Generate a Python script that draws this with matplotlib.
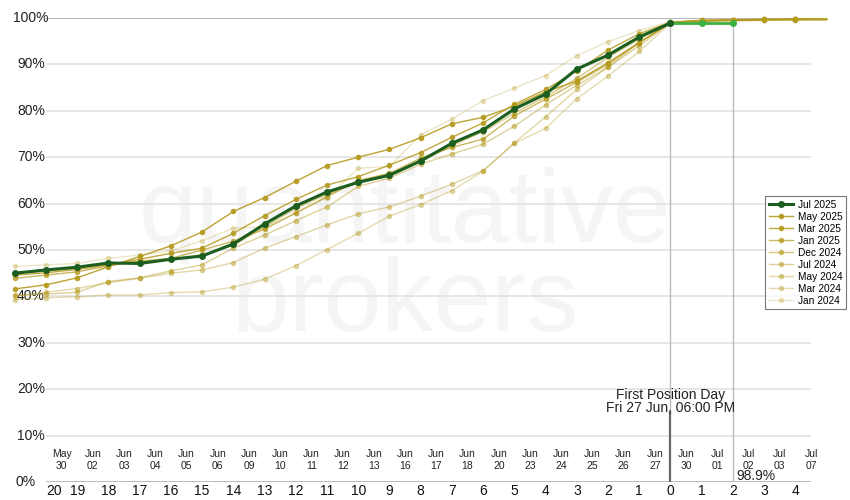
import matplotlib
matplotlib.use("Agg")
import matplotlib.pyplot as plt

plt.rcParams['font.family'] = ['Liberation Sans', 'DejaVu Sans']

# days relative to first position day
days = list(range(-21, 1))
tail_days = [1, 2, 3, 4, 5]

jul25 = [45.0, 45.7, 46.3, 47.2, 47.1, 48.0, 48.7, 51.3, 55.6, 59.5, 62.5,
         64.6, 66.1, 69.2, 73.0, 75.9, 80.4, 83.6, 89.0, 92.0, 95.9, 98.9]
jul25_after = [98.9, 98.9, 98.9]  # days 0, 1, 2

may25 = [41.6, 42.5, 44.0, 46.4, 48.6, 50.9, 53.9, 58.3, 61.3, 64.8, 68.2,
         70.0, 71.7, 74.2, 77.2, 78.6, 81.0, 84.1, 86.4, 90.4, 94.7, 99.0]
mar25 = [44.6, 45.1, 45.8, 46.8, 48.0, 49.3, 50.4, 53.6, 57.4, 60.9, 64.0,
         65.8, 68.3, 71.0, 74.3, 77.4, 81.4, 84.6, 88.6, 93.1, 96.6, 99.1]
jan25 = [43.9, 44.6, 45.3, 46.6, 47.6, 48.2, 50.0, 51.9, 54.5, 58.0, 61.5,
         65.0, 66.5, 69.8, 72.1, 73.9, 78.9, 82.5, 86.2, 90.0, 94.7, 99.0]
dec24 = [45.0, 45.5, 46.0, 47.0, 47.5, 48.0, 49.0, 51.0, 55.0, 59.0, 62.0,
         64.5, 66.5, 69.0, 72.5, 75.5, 79.5, 83.0, 87.0, 91.5, 95.5, 99.2]
jul24 = [40.2, 40.5, 40.9, 43.2, 44.0, 45.5, 46.8, 50.4, 53.2, 56.3, 59.3,
         63.7, 65.5, 68.5, 70.7, 72.8, 76.7, 81.3, 85.5, 89.4, 94.0, 99.0]
may24 = [40.0, 40.9, 41.7, 43.0, 43.9, 45.0, 45.7, 47.3, 50.4, 52.9, 55.4,
         57.8, 59.3, 61.6, 64.2, 67.1, 73.1, 78.7, 84.6, 89.4, 94.7, 98.9]
mar24 = [39.3, 39.7, 39.9, 40.3, 40.3, 40.8, 41.0, 42.0, 43.7, 46.6, 50.1,
         53.6, 57.3, 59.8, 62.8, 67.0, 73.0, 76.2, 82.6, 87.5, 92.8, 98.9]
jan24 = [46.5, 46.8, 47.1, 48.2, 48.9, 49.8, 52.0, 54.7, 55.0, 57.9, 61.3,
         67.6, 68.0, 74.8, 78.2, 82.2, 84.9, 87.6, 91.9, 94.9, 97.3, 99.2]

tails = {
    'May 2025': [99.5, 99.6, 99.7, 99.7, 99.7],
    'Mar 2025': [99.4, 99.6, 99.7, 99.8, 99.8],
    'Jan 2025': [99.5, 99.5, 99.6, 99.7, 99.7],
    'Dec 2024': [99.3, 99.5, 99.6, 99.6, 99.7],
    'Jul 2024': [99.4, 99.6, 99.7, 99.7, 99.8],
    'May 2024': [99.3, 99.4, 99.5, 99.6, 99.6],
    'Mar 2024': [99.2, 99.4, 99.5, 99.6, 99.6],
    'Jan 2024': [99.5, 99.6, 99.7, 99.7, 99.7],
}
series = [('May 2025', may25), ('Mar 2025', mar25), ('Jan 2025', jan25),
          ('Dec 2024', dec24), ('Jul 2024', jul24), ('May 2024', may24),
          ('Mar 2024', mar24), ('Jan 2024', jan24)]
alphas = [0.9, 0.85, 0.7, 0.55, 0.45, 0.4, 0.35, 0.25]

date_labels = ['May\n30', 'Jun\n02', 'Jun\n03', 'Jun\n04', 'Jun\n05', 'Jun\n06',
               'Jun\n09', 'Jun\n10', 'Jun\n11', 'Jun\n12', 'Jun\n13', 'Jun\n16',
               'Jun\n17', 'Jun\n18', 'Jun\n20', 'Jun\n23', 'Jun\n24', 'Jun\n25',
               'Jun\n26', 'Jun\n27', 'Jun\n30', 'Jul\n01', 'Jul\n02', 'Jul\n03',
               'Jul\n07']
tick_days = list(range(-20, 5))

gold = '#b59a1e'
dark_green = '#1b5e20'
light_green = '#3cb043'

fig = plt.figure(figsize=(8.5, 5), dpi=100)
ax = fig.add_axes([46/850, 18/500, 765/850, 464/500])
ax.patch.set_visible(False)
for s in ax.spines.values():
    s.set_visible(False)
ax.set_xlim(-20, 4.5)
ax.set_ylim(0, 100)

# watermark
ax.text(405/850, 1 - 260/500, 'quantitative\nbrokers', transform=fig.transFigure,
        ha='center', va='center', fontsize=75, color='#f5f5f5', linespacing=0.88,
        zorder=0)

# grid
for v in range(10, 100, 10):
    ax.axhline(v, color='#e2e2e2', lw=1.2, zorder=1)
ax.axhline(100, color='#aaaaaa', lw=1.2, zorder=1)
ax.axhline(0, color='#b0b0b0', lw=1.2, zorder=1)
for v in range(0, 101, 10):
    ax.text(-15/765 if v else -20/765, v, f'{v}%', transform=ax.get_yaxis_transform(),
            ha='center', va='center', fontsize=10, color='#222222')

# first position day / today markers
ax.plot([0, 0], [14.9, 100], color='#bbbbbb', lw=1, zorder=1)
ax.plot([0, 0], [0, 14.9], color='#666666', lw=1.6, zorder=1)
ax.plot([2, 2], [0, 100], color='#bbbbbb', lw=1, zorder=1)
ax.text(0, 17.3, 'First Position Day\nFri 27 Jun, 06:00 PM', ha='center', va='center',
        fontsize=10, linespacing=0.95, color='#222222', zorder=2)
ax.text(2.12, 1.2, '98.9%', ha='left', va='center', fontsize=10, color='#222222')

# date labels
for d, lab in zip(tick_days, date_labels):
    ax.text(d + 0.5, 4.7, lab, ha='center', va='center', fontsize=7.5,
            linespacing=1.2, color='#222222')

# comparison series
handles = []
for (name, vals), a in zip(series, alphas):
    xs = days + tail_days
    ys = vals + tails[name]
    ln, = ax.plot(xs, ys, color=gold, alpha=a, lw=1, marker='o', ms=3,
                  markevery=list(range(len(xs) - 1)), clip_on=False, zorder=3)
    handles.append(ln)

ax.plot([0, 1, 2], jul25_after, color=light_green, lw=2, marker='o', ms=4,
        clip_on=False, zorder=4)
main, = ax.plot(days, jul25, color=dark_green, lw=2.2, marker='o', ms=4,
                clip_on=False, zorder=5)

ax.set_xticks(tick_days)
ax.set_xticklabels([str(abs(d)) for d in tick_days])
ax.tick_params(axis='x', length=0, pad=1.5, labelsize=10, labelcolor='#111111')
ax.get_xticklabels()[0].set_ha('left')
ax.set_yticks([])

leg = fig.legend([main] + handles, ['Jul 2025'] + [n for n, _ in series],
                 loc='upper left', bbox_to_anchor=(765/850, 1 - 196/500),
                 fontsize=7.3, frameon=True, fancybox=False, edgecolor='#555555',
                 borderpad=0.35, labelspacing=0.2, handlelength=2.4,
                 handletextpad=0.5, borderaxespad=0)
leg.get_frame().set_linewidth(0.8)

fig.savefig('out.png', dpi=100)
